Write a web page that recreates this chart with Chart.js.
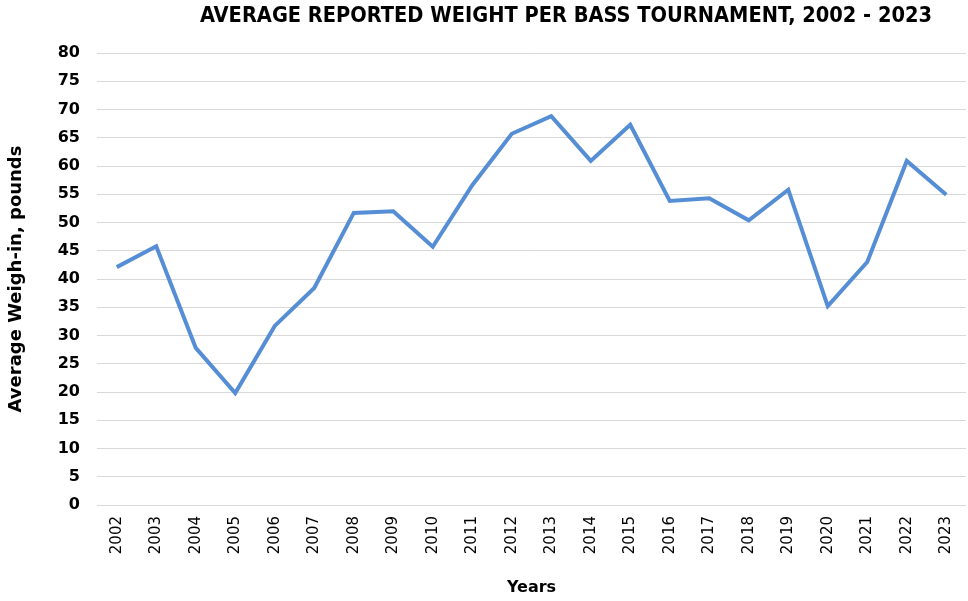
<!DOCTYPE html>
<html>
<head>
<meta charset="utf-8">
<title>Average Reported Weight per Bass Tournament</title>
<script src="https://cdn.jsdelivr.net/npm/chart.js@4"></script>
<style>
  html, body { margin: 0; padding: 0; background: #fff; }
  #wrap { width: 968px; height: 601px; }
</style>
</head>
<body>
<div id="wrap"><canvas id="bassChart" width="968" height="601"></canvas></div>
<script>
const years = ["2002", "2003", "2004", "2005", "2006", "2007", "2008", "2009", "2010", "2011", "2012",
  "2013", "2014", "2015", "2016", "2017", "2018", "2019", "2020", "2021", "2022", "2023"];
const avgWeight = [42.1, 45.8, 27.8, 19.8, 31.7, 38.4, 51.7, 52.0, 45.7, 56.6, 65.7,
  68.8, 60.9, 67.3, 53.8, 54.3, 50.4, 55.8, 35.2, 43.0, 60.9, 54.9];
const yTicks = [0, 5, 10, 15, 20, 25, 30, 35, 40, 45, 50, 55, 60, 65, 70, 75, 80];

const chartTitle = "AVERAGE REPORTED WEIGHT PER BASS TOURNAMENT, 2002 - 2023";

// title is drawn by hand so it can sit off-centre like the original
const titlePlugin = {
  id: 'titleText',
  afterDraw(chart) {
    const ctx = chart.ctx;
    ctx.save();
    ctx.font = 'bold 21px "Liberation Sans Narrow", "DejaVu Sans Condensed", "DejaVu Sans", sans-serif';
    ctx.fillStyle = '#000';
    ctx.textBaseline = 'middle';
    ctx.textAlign = 'left';
    const w = ctx.measureText(chartTitle).width;
    const target = 732;
    ctx.translate(200, 17);
    ctx.scale(target / w, 1);
    ctx.fillText(chartTitle, 0, 0);
    ctx.restore();
  }
};

const ctx = document.getElementById('bassChart').getContext('2d');
const bassChart = new Chart(ctx, {
  type: 'line',
  data: {
    labels: years,
    datasets: [{
      label: 'Average Weigh-in',
      data: avgWeight,
      borderColor: '#558ED5',
      backgroundColor: '#558ED5',
      borderWidth: 4,
      pointRadius: 0,
      tension: 0,
      fill: false
    }]
  },
  options: {
    responsive: false,
    animation: false,
    layout: { padding: { top: 53, right: 2, bottom: 0, left: 0 } },
    plugins: {
      legend: { display: false },
      title: { display: false },
      tooltip: { enabled: false }
    },
    scales: {
      x: {
        offset: true,
        grid: { display: false, drawTicks: false },
        border: { display: false },
        ticks: {
          minRotation: 90,
          maxRotation: 90,
          padding: 11,
          color: '#000',
          font: { family: '"DejaVu Sans", Tahoma, sans-serif', size: 15 }
        },
        title: {
          display: true,
          text: 'Years',
          color: '#000',
          padding: { top: 4, bottom: 4 },
          font: { family: '"DejaVu Sans", Tahoma, sans-serif', size: 16, weight: 'bold' }
        },
        afterFit(scale) {
          scale.height = 96;
          // don't let the rotated end labels eat into the plot width
          scale.paddingLeft = 0;
          scale.paddingRight = 0;
        }
      },
      y: {
        min: 0,
        max: 80,
        afterBuildTicks(scale) { scale.ticks = yTicks.map(v => ({ value: v })); },
        grid: { color: '#d9d9d9', lineWidth: 1, drawTicks: false },
        border: { display: false },
        ticks: {
          padding: 17,
          color: '#000',
          font: { family: '"DejaVu Sans", Tahoma, sans-serif', size: 16, weight: 'bold' }
        },
        title: {
          display: true,
          text: 'Average Weigh-in, pounds',
          color: '#000',
          padding: { top: 6, bottom: 4 },
          font: { family: '"DejaVu Sans", Tahoma, sans-serif', size: 18, weight: 'bold' }
        },
        afterFit(scale) { scale.width = 97; }
      }
    }
  },
  plugins: [titlePlugin]
});
</script>
</body>
</html>
